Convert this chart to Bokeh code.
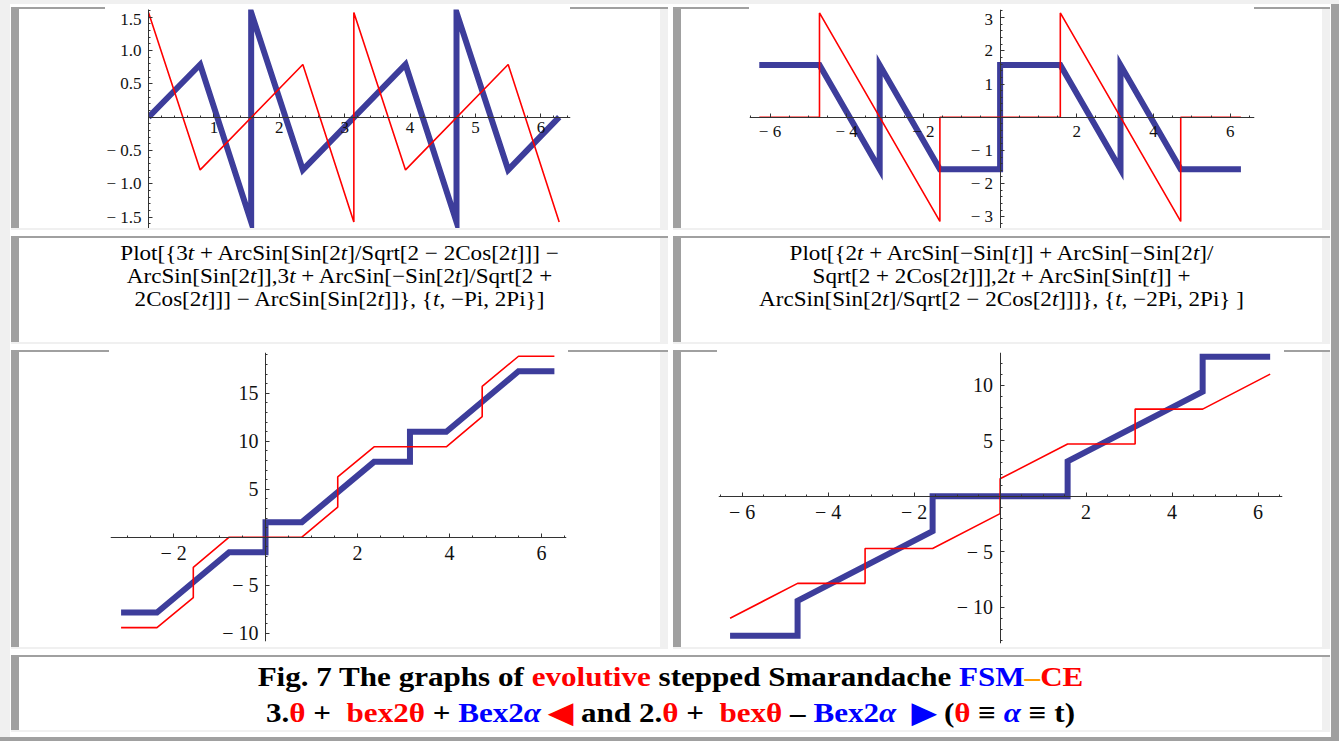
from bokeh.plotting import figure
from bokeh.layouts import row, column
from bokeh.models import Div, Range1d, SingleIntervalTicker, CustomJSTickFormatter, Spacer
from bokeh.embed import file_html
from bokeh.resources import INLINE

# ---------------- data ----------------
# Plot 1 (top left), t from 0 to 2Pi
p1_blue_t = [0.00, 0.79, 1.57, 1.57, 2.36, 3.93, 4.71, 4.71, 5.50, 6.28]
p1_blue_v = [0.00, 0.79, -1.57, 1.57, -0.79, 0.79, -1.57, 1.57, -0.79, 0.00]
p1_red_t = [0.00, 0.79, 2.36, 3.14, 3.14, 3.93, 5.50, 6.28]
p1_red_v = [1.57, -0.79, 0.79, -1.57, 1.57, -0.79, 0.79, -1.57]

# Plot 2 (top right), t from -2Pi to 2Pi
p2_blue_t = [-6.28, -4.71, -3.14, -3.14, -1.57, 0.00, 0.00, 1.57, 3.14, 3.14, 4.71, 6.28]
p2_blue_v = [1.57, 1.57, -1.57, 1.57, -1.57, -1.57, 1.57, 1.57, -1.57, 1.57, -1.57, -1.57]
p2_red_t = [-6.28, -4.71, -4.71, -1.57, -1.57, 1.57, 1.57, 4.71, 4.71, 6.28]
p2_red_v = [0.00, 0.00, 3.14, -3.14, 0.00, 0.00, 3.14, -3.14, 0.00, 0.00]

# Plot 3 (bottom left), t from -Pi to 2Pi
p3_blue_t = [-3.14, -2.36, -0.79, 0.00, 0.00, 0.79, 2.36, 3.14, 3.14, 3.93, 5.50, 6.28]
p3_blue_v = [-7.85, -7.85, -1.57, -1.57, 1.57, 1.57, 7.85, 7.85, 10.99, 10.99, 17.28, 17.28]
p3_red_t = [-3.14, -2.36, -1.57, -1.57, -0.79, 0.79, 1.57, 1.57, 2.36, 3.93, 4.71, 4.71, 5.50, 6.28]
p3_red_v = [-9.42, -9.42, -6.28, -3.14, 0.00, 0.00, 3.14, 6.28, 9.42, 9.42, 12.57, 15.71, 18.85, 18.85]

# Plot 4 (bottom right), t from -2Pi to 2Pi
p4_blue_t = [-6.28, -4.71, -4.71, -1.57, -1.57, 1.57, 1.57, 4.71, 4.71, 6.28]
p4_blue_v = [-12.57, -12.57, -9.42, -3.14, 0.00, 0.00, 3.14, 9.42, 12.57, 12.57]
p4_red_t = [-6.28, -4.71, -3.14, -3.14, -1.57, 0.00, 0.00, 1.57, 3.14, 3.14, 4.71, 6.28]
p4_red_v = [-11.00, -7.85, -7.85, -4.71, -4.71, -1.57, 1.57, 4.71, 4.71, 7.85, 7.85, 11.00]

formula_left = [
    "Plot[{3<i>t</i> + ArcSin[Sin[2<i>t</i>]/Sqrt[2 − 2Cos[2<i>t</i>]]] −",
    "ArcSin[Sin[2<i>t</i>]],3<i>t</i> + ArcSin[−Sin[2<i>t</i>]/Sqrt[2 +",
    "2Cos[2<i>t</i>]]] − ArcSin[Sin[2<i>t</i>]]}, {<i>t</i>, −Pi, 2Pi}]",
]
formula_right = [
    "Plot[{2<i>t</i> + ArcSin[−Sin[<i>t</i>]] + ArcSin[−Sin[2<i>t</i>]/",
    "Sqrt[2 + 2Cos[2<i>t</i>]]],2<i>t</i> + ArcSin[Sin[<i>t</i>]] +",
    "ArcSin[Sin[2<i>t</i>]/Sqrt[2 − 2Cos[2<i>t</i>]]]}, {<i>t</i>, −2Pi, 2Pi} ]",
]

# ---------------- style ----------------
BLUE = "#3d3d9b"
RED = "#ff0000"
DARK = "#a0a0a0"
LIGHT = "#f0f0f0"
AXIS = "#333333"
SERIF = "Liberation Serif"


def tick_fmt(digits):
    return CustomJSTickFormatter(args=dict(d=digits), code="""
        if (Math.abs(tick) < 1e-9) { return ""; }
        const s = Math.abs(tick).toFixed(d);
        return tick < 0 ? "\u2212 " + s : s;
    """)


def make_plot(w, h, xr, yr, borders, xstep, xminor, ystep, yminor, xdig, ydig, fsize,
              blue, red, y_fixed=True):
    left, right, top, bottom = borders
    p = figure(width=w, height=h, x_range=Range1d(*xr), y_range=Range1d(*yr),
               output_backend="svg", toolbar_location=None, tools="",
               min_border_left=left, min_border_right=right,
               min_border_top=top, min_border_bottom=bottom,
               background_fill_color="white", border_fill_color="white",
               outline_line_color=None)
    p.xgrid.visible = False
    p.ygrid.visible = False
    xa, ya = p.xaxis[0], p.yaxis[0]
    xa.ticker = SingleIntervalTicker(interval=xstep, num_minor_ticks=xminor)
    ya.ticker = SingleIntervalTicker(interval=ystep, num_minor_ticks=yminor)
    xa.formatter = tick_fmt(xdig)
    ya.formatter = tick_fmt(ydig)
    xa.fixed_location = 0
    if y_fixed:
        ya.fixed_location = 0
    for ax in (xa, ya):
        ax.axis_line_color = AXIS
        ax.axis_line_width = 1
        ax.major_tick_line_color = AXIS
        ax.minor_tick_line_color = AXIS
        ax.major_tick_in = 4
        ax.major_tick_out = 0
        ax.minor_tick_in = 2
        ax.minor_tick_out = 0
        ax.major_label_text_font = SERIF
        ax.major_label_text_font_size = fsize
        ax.major_label_text_color = "#111111"
    xa.major_label_standoff = 5
    ya.major_label_standoff = 7
    p.line(blue[0], blue[1], line_color=BLUE, line_width=6, line_join="miter")
    p.line(red[0], red[1], line_color=RED, line_width=1.6)
    return p


def box(w, h, bg):
    return Div(text="", width=w, height=h, margin=0, styles={"background": bg})


def grad(w, a, b):
    return (f"linear-gradient(to right, {DARK} 0px, {DARK} {a}px, #ffffff {a}px, "
            f"#ffffff {b}px, {DARK} {b}px, {DARK} {w}px)")


def cell(content, cw, ch, top_bg=DARK):
    bar = box(8, ch + 2, DARK)
    top = box(cw + 8, 2, top_bg)
    rlight = box(8, ch, LIGHT)
    inner = column(top, row(content, rlight, spacing=0), spacing=0)
    upper = row(bar, inner, spacing=0)
    bottom = box(cw + 16, 2, LIGHT)
    return column(upper, bottom, spacing=0)


def sp(w, h=1):
    return Spacer(width=w, height=h, margin=0)


CW = 641
H1 = 219
H2 = 104
H3 = 295
H4 = 73

p1 = make_plot(CW, H1, (0, 6.453), (-1.669, 1.615), (129, 90, 0, 0),
               1, 5, 0.5, 5, 0, 1, "17px", (p1_blue_t, p1_blue_v), (p1_red_t, p1_red_v),
               y_fixed=False)
p2 = make_plot(CW, H1, (-6.535, 6.634), (-3.352, 3.244), (68, 68, 0, 0),
               2, 4, 1, 5, 0, 0, "17px", (p2_blue_t, p2_blue_v), (p2_red_t, p2_red_v))
p3 = make_plot(CW, H3, (-3.37, 6.543), (-10.86, 19.24), (91, 94, 0, 6),
               2, 4, 5, 5, 0, 0, "20px", (p3_blue_t, p3_blue_v), (p3_red_t, p3_red_v))
p4 = make_plot(CW, H3, (-6.549, 6.567), (-13.27, 12.95), (37, 40, 0, 4),
               2, 4, 5, 5, 0, 0, "20px", (p4_blue_t, p4_blue_v), (p4_red_t, p4_red_v))

FORM_STYLE = (f"width:{CW}px; font-family:'Liberation Serif','Times New Roman',serif; "
              "font-size:21px; line-height:23px; text-align:center; color:#000; "
              "padding-top:4px; transform:scaleX(1.1); transform-origin:50% 0;")


def formula_div(lines):
    return Div(text=f'<div style="{FORM_STYLE}">' + "<br>".join(lines) + "</div>",
               width=CW, height=H2, margin=0, styles={"background": "#ffffff"})


fl = formula_div(formula_left)
fr = formula_div(formula_right)

CAPW = 1303
R = 'style="color:#ff0000"'
B = 'style="color:#0000ff"'
O = 'style="color:#ff9900"'
caption_html = (
    f'<div style="width:{CAPW}px; font-family:\'Liberation Serif\',\'Times New Roman\',serif; '
    'font-weight:bold; font-size:28px; line-height:36px; text-align:center; color:#000; '
    'padding-top:2px; transform:scaleX(1.11); transform-origin:50% 0;">'
    f'Fig. 7 The graphs of <span {R}>evolutive</span> stepped Smarandache '
    f'<span {B}>FSM</span><span {O}>–</span><span {R}>CE</span><br>'
    f'3.<span {R}>θ</span> +&nbsp; <span {R}>bex2θ</span> + <span {B}>Bex2<i>α</i></span> '
    f'<span {R}>◀</span> and 2.<span {R}>θ</span> +&nbsp; <span {R}>bexθ</span> – '
    f'<span {B}>Bex2<i>α</i></span>&nbsp; <span {B}>▶</span> (<span {R}>θ</span> ≡ '
    f'<span {B}><i>α</i></span> ≡ t)'
    '</div>'
)
cap = Div(text=caption_html, width=CAPW, height=H4, margin=0, styles={"background": "#ffffff"})

c1 = cell(p1, CW, H1, grad(CW + 8, 86, 551))
c2 = cell(p2, CW, H1, grad(CW + 8, 68, 573))
c3 = cell(fl, CW, H2)
c4 = cell(fr, CW, H2)
c5 = cell(p3, CW, H3, grad(CW + 8, 90, 549))
c6 = cell(p4, CW, H3, grad(CW + 8, 36, 603))
c7 = cell(cap, CAPW, H4)

r1 = row(sp(1), c1, sp(5), c2, sp(1), spacing=0)
r2 = row(sp(1), c3, sp(5), c4, sp(1), spacing=0)
r3 = row(sp(1), c5, sp(5), c6, sp(1), spacing=0)
r4 = row(sp(1), c7, sp(1), spacing=0)
inner = column(sp(1321, 3), r1, sp(1, 6), r2, sp(1, 6), r3, sp(1, 6), r4, sp(1321, 5),
               spacing=0)

page = column(
    box(1339, 4, LIGHT),
    row(box(10, 733, LIGHT), inner, box(8, 733, DARK), spacing=0),
    box(1339, 4, DARK),
    spacing=0,
)

open("out.html", "w").write(file_html(page, INLINE))
